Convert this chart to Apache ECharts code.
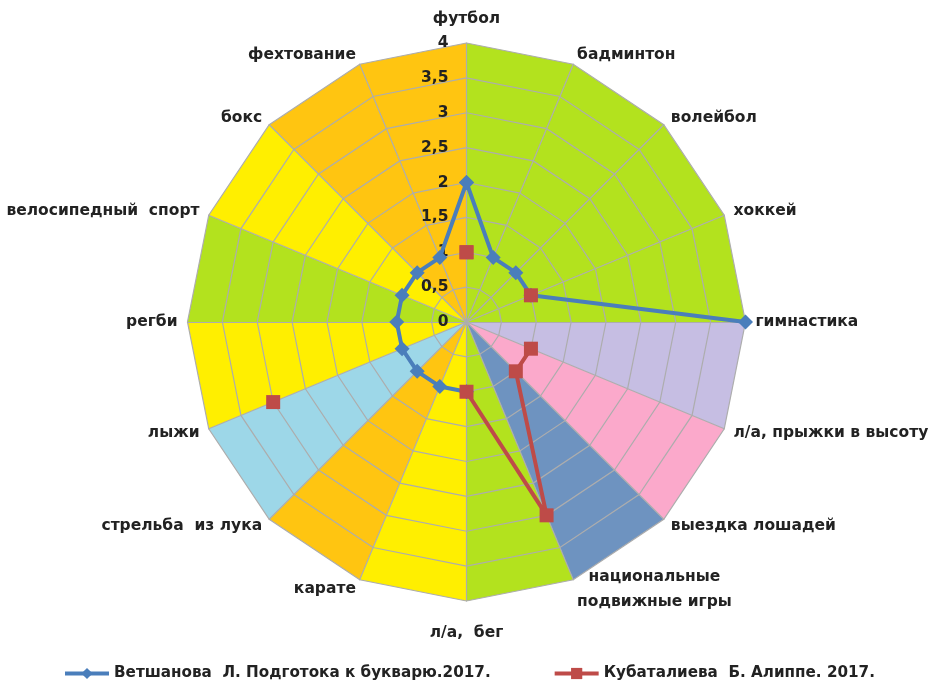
<!DOCTYPE html>
<html>
<head>
<meta charset="utf-8">
<script src="https://cdn.jsdelivr.net/npm/echarts@6/dist/echarts.min.js"></script>
<style>
    html, body { margin: 0; padding: 0; background: #fff; }
    #chart { width: 935px; height: 687px; }
</style>
</head>
<body>
<div id="chart"></div>
<script>
// виды спорта по кругу: с верхней оси по часовой стрелке
const categories = ['футбол', 'бадминтон', 'волейбол', 'хоккей', 'гимнастика',
    'л/а, прыжки в высоту', 'выездка лошадей', 'национальные\nподвижные игры', 'л/а,  бег',
    'карате', 'стрельба  из лука', 'лыжи', 'регби', 'велосипедный  спорт', 'бокс', 'фехтование'];
const seriesNames = ['Ветшанова  Л. Подготока к букварю.2017.', 'Кубаталиева  Б. Алиппе. 2017.'];
// null = пустая ячейка (разрыв линии)
const vetshanova = [2, 1, 1, 1, 4, null, null, null, 1, 1, 1, 1, 1, 1, 1, 1];
const kubatalieva = [1, null, null, 1, null, 1, 1, 3, 1, null, null, 3, null, null, null, null];
const tickLabels = ['0', '0,5', '1', '1,5', '2', '2,5', '3', '3,5', '4'];
// цвет сектора между осью i и осью i+1
const sectorColors = ['#B3E21E', '#B3E21E', '#B3E21E', '#B3E21E', '#C6BEE3', '#FBA9CB', '#6E93C0', '#B3E21E',
    '#FFEF00', '#FFC511', '#9DD7E8', '#FFEF00', '#B3E21E', '#FFEF00', '#FFC511', '#FFC511'];

const font = 'DejaVu Sans';
const textColor = '#222';
const maxValue = 4;
const n = categories.length;
const cx = 466.5, cy = 322, radius = 279;

const chart = echarts.init(document.getElementById('chart'));

// радар ECharts раскладывает оси против часовой стрелки, поэтому идём в обратном порядке
const radarOrder = categories.map((_, k) => (n - k) % n);

// точки для полярной системы: [значение, номер оси], последняя замыкает круг
function toPolar(values) {
    const pts = values.map((v, i) => [v == null ? '-' : v, i]);
    pts.push([values[0] == null ? '-' : values[0], n]);
    return pts;
}

// цветные секторы фона
const sectors = sectorColors.map((color, i) => ({
    value: radarOrder.map(j => (j === i || j === (i + 1) % n) ? maxValue : 0),
    areaStyle: { color: color, opacity: 1 },
    lineStyle: { width: 0 }
}));

const nameStyle = { fontFamily: font, fontWeight: 'bold', fontSize: 15.5, color: textColor };

const option = {
    animation: false,
    backgroundColor: '#fff',
    radar: {
        center: [cx, cy],
        radius: radius,
        startAngle: 90,
        shape: 'polygon',
        splitNumber: 8,
        z: 5,
        nameGap: 10,
        indicator: radarOrder.map(j => ({ name: categories[j], min: 0, max: maxValue })),
        axisName: Object.assign({}, nameStyle, {
            formatter: function (name) {
                if (name === categories[0]) return '{up|' + name + '}';
                if (name === categories[8]) return '{down|' + name + '}';
                if (name.indexOf('\n') >= 0) return name.split('\n').map(s => '{c|' + s + '}').join('\n');
                return name;
            },
            rich: {
                up: Object.assign({}, nameStyle, { padding: [0, 0, 6, 0] }),
                down: Object.assign({}, nameStyle, { padding: [14, 0, 0, 0] }),
                c: Object.assign({}, nameStyle, { align: 'center', lineHeight: 25 })
            }
        }),
        splitLine: { lineStyle: { color: '#adadad', width: 1.2 } },
        axisLine: { lineStyle: { color: '#adadad', width: 1.2 } },
        splitArea: { show: false },
        axisTick: { show: false },
        axisLabel: { show: false }
    },
    polar: { center: [cx, cy], radius: radius },
    angleAxis: {
        type: 'value', min: 0, max: n, startAngle: 90, clockwise: true,
        axisLine: { show: false }, axisTick: { show: false }, axisLabel: { show: false }, splitLine: { show: false }
    },
    radiusAxis: {
        type: 'value', min: 0, max: maxValue, interval: 0.5, z: 6,
        axisLine: { show: false }, axisTick: { show: false }, splitLine: { show: false },
        axisLabel: {
            margin: 18,
            padding: [6, 0, 0, 0],
            fontFamily: font, fontWeight: 'bold', fontSize: 15.5, color: textColor,
            formatter: v => tickLabels[Math.round(v / 0.5)]
        }
    },
    legend: {
        data: seriesNames,
        left: 58,
        top: 661,
        itemWidth: 44,
        itemHeight: 14,
        itemGap: 62,
        lineStyle: { width: 4 },
        textStyle: { fontFamily: font, fontWeight: 'bold', fontSize: 15.2, color: textColor }
    },
    series: [
        {
            name: 'фон',
            type: 'radar',
            symbol: 'none',
            silent: true,
            data: sectors
        },
        {
            name: seriesNames[0],
            type: 'line',
            coordinateSystem: 'polar',
            data: toPolar(vetshanova),
            connectNulls: false,
            symbol: 'diamond',
            symbolSize: 15,
            lineStyle: { color: '#4A7EBB', width: 4 },
            itemStyle: { color: '#4A7EBB' },
            z: 10
        },
        {
            name: seriesNames[1],
            type: 'line',
            coordinateSystem: 'polar',
            data: toPolar(kubatalieva),
            connectNulls: false,
            symbol: 'rect',
            symbolSize: 14,
            lineStyle: { color: '#BE4B48', width: 4 },
            itemStyle: { color: '#BE4B48' },
            z: 11
        }
    ]
};

chart.setOption(option);
</script>
</body>
</html>
